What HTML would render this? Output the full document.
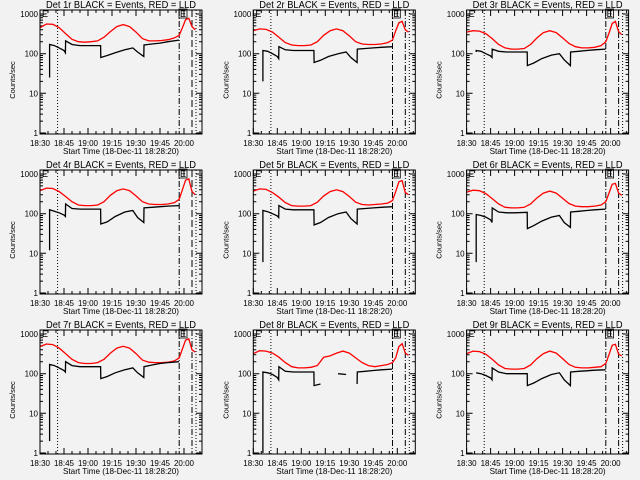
<!DOCTYPE html>
<html><head><meta charset="utf-8"><style>
html,body{margin:0;padding:0;background:#f2f2f2;}
svg{display:block;font-family:"Liberation Sans",sans-serif;}
</style></head><body>
<svg id="c" width="640" height="480" xmlns="http://www.w3.org/2000/svg">
<rect width="640" height="480" fill="#f2f2f2"/>
</svg>
<script>
const detLabels = ["1r","2r","3r","4r","5r","6r","7r","8r","9r"];
const xTickLabels = ["18:30","18:45","19:00","19:15","19:30","19:45","20:00"];
const yTickValues = [1,10,100,1000];
const redTimes = [0,4,8,12,16,20,24,28,32,36,40,44,48,52,56,60,64,68,72,76,80,84,87,89,91,93,95,97];
const blackTimes = [6,6.01,9,12,15,15.9,16,20,25,30,37.9,38,42,47,53,58,61,64.9,65,70,75,80,86.9];
const vLineTimes = [11,87,95,97.5];
const red1 = [450,560,550,450,320,230,200,195,200,210,260,360,480,540,480,350,240,210,210,215,225,250,290,450,720,780,480,400];
const red2 = [380,420,410,350,260,190,165,160,160,165,200,290,380,420,380,280,200,175,170,170,175,190,220,380,600,650,400,350];
const red3 = [350,380,370,320,240,170,140,130,130,135,170,250,340,380,340,250,180,150,140,140,145,160,200,330,580,650,360,300];
const red4 = [380,440,430,360,270,200,165,160,160,165,200,290,380,420,380,280,200,175,170,170,175,190,230,400,700,750,360,300];
const red5 = [370,420,410,340,260,190,160,155,155,160,195,280,360,400,360,270,195,170,165,170,175,185,215,360,640,680,340,300];
const red6 = [350,390,380,320,240,175,145,140,140,145,175,250,330,370,330,245,180,155,150,150,155,165,200,330,550,580,330,290];
const red7 = [480,560,540,440,320,230,190,180,180,190,230,330,440,490,440,320,220,195,190,190,195,210,250,420,700,750,400,350];
const red8 = [320,380,370,330,260,190,150,140,140,145,160,260,280,330,370,330,250,190,160,150,160,170,190,250,480,570,330,290];
const red9 = [320,370,360,310,230,165,135,130,130,135,165,240,320,370,330,240,170,145,140,140,145,150,180,300,520,550,310,280];
const black1 = [25,170,160,140,120,105,210,170,160,160,160,80,90,105,125,140,110,85,165,175,185,200,220];
const black2 = [20,120,115,100,85,75,150,125,120,120,120,60,68,85,100,110,80,60,130,135,140,145,150];
const black3 = [110,120,115,100,88,80,130,115,110,110,110,50,58,75,92,100,70,50,110,115,120,125,130];
const black4 = [12,125,115,105,92,85,175,135,130,130,130,55,62,85,110,120,80,60,140,145,150,155,160];
const black5 = [6,120,112,100,88,80,160,130,125,125,125,52,60,80,100,110,75,55,130,135,140,145,150];
const black6 = [6,95,90,82,70,60,140,110,105,105,108,42,50,65,82,90,60,45,110,115,120,125,130];
const black7 = [2,170,160,140,120,110,200,160,150,150,150,75,85,105,125,140,105,80,150,165,180,190,200];
const black8 = [1,110,105,95,80,70,150,115,110,110,110,50,55,null,100,95,null,55,110,115,120,125,130];
const black9 = [105,105,100,90,78,70,140,110,100,100,100,50,58,75,95,105,70,50,110,115,118,122,125];
const redSeries = [red1,red2,red3,red4,red5,red6,red7,red8,red9];
const blackSeries = [black1,black2,black3,black4,black5,black6,black7,black8,black9];

const NS = "http://www.w3.org/2000/svg";
const svg = document.getElementById("c");
function mk(tag, attrs, parent){
  const e = document.createElementNS(NS, tag);
  for (const k in attrs) e.setAttribute(k, attrs[k]);
  parent.appendChild(e);
  return e;
}
const L = 40, R = 202, T = 10, B = 134;
const X = t => L + t * 1.6;
const Y = v => 133 - Math.log10(v) * 39.67;

function linePath(ts, vs){
  let d = "", pen = false;
  for (let i = 0; i < ts.length; i++){
    const v = vs[i];
    if (v === null || v === undefined){ pen = false; continue; }
    d += (pen ? "L" : "M") + X(ts[i]).toFixed(1) + "," + Math.max(T, Math.min(B, Y(v))).toFixed(1);
    pen = true;
  }
  return d;
}

for (let p = 0; p < 9; p++){
  const col = p % 3, row = Math.floor(p / 3);
  const g = mk("g", {transform: "translate(" + (col * 213.3).toFixed(1) + "," + (row * 160) + ")"}, svg);
  
  

  const title = mk("text", {x: 121, y: 8, "font-size": 10, "text-anchor": "middle", fill: "#000", textLength: 150, lengthAdjust: "spacingAndGlyphs"}, g);
  title.textContent = "Det " + detLabels[p] + " BLACK = Events, RED = LLD";
  
  

  const ytg = mk("g", {}, g);
  
  
  let tk = "";
  for (let d = 0; d < 4; d++){
    for (let m = 1; m < 10; m++){
      const v = Math.pow(10, d) * m;
      const y = Y(v);
      if (y < T) continue;
      const len = m === 1 ? 6 : 3;
      tk += "M" + L + "," + y.toFixed(1) + "h" + len + "M" + R + "," + y.toFixed(1) + "h-" + len;
    }
  }
  for (let i = 0; i <= 6; i++){
    const x = X(i * 15);
    tk += "M" + x.toFixed(1) + "," + B + "v-6M" + x.toFixed(1) + "," + T + "v6";
    for (let m = 5; m < 15; m += 5){
      const xm = X(i * 15 + m);
      if (xm < R) tk += "M" + xm.toFixed(1) + "," + B + "v-3M" + xm.toFixed(1) + "," + T + "v3";
    }
  }
  mk("path", {d: tk, stroke: "#000", "stroke-width": 1, fill: "none"}, ytg);
  yTickValues.forEach(v => {
    const t = mk("text", {x: 38, y: (Y(v) + 3).toFixed(1), "font-size": 8, "text-anchor": "end", fill: "#000"}, ytg);
    t.textContent = String(v);
    
    
  });
  const yl = mk("text", {x: 0, y: 0, "font-size": 7.5, "text-anchor": "middle", fill: "#000", transform: "translate(15,80) rotate(-90)"}, g);
  yl.textContent = "Counts/sec";
  
  

  xTickLabels.forEach((lab, i) => {
    const t = mk("text", {x: X(i * 15).toFixed(1), y: 146, "font-size": 8, "text-anchor": "middle", fill: "#000"}, g);
    t.textContent = lab;
    
    
  });
  const xt = mk("text", {x: 121, y: 154, "font-size": 8.5, "text-anchor": "middle", fill: "#000", textLength: 116, lengthAdjust: "spacingAndGlyphs"}, g);
  xt.textContent = "Start Time (18-Dec-11 18:28:20)";
  
  

  const dashes = ["1,2", "6,2,1,2", p === 0 || p === 3 ? "7,3" : "6,2,1,2", "1,2"];
  vLineTimes.forEach((t, i) => {
    const ln = mk("line", {x1: X(t).toFixed(1), x2: X(t).toFixed(1), y1: T, y2: B, stroke: "#000", "stroke-width": 1, "stroke-dasharray": dashes[i]}, g);
    
    
  });

  const rp = mk("path", {d: linePath(redTimes, redSeries[p]), stroke: "#ff0000", "stroke-width": 1.3, fill: "none"}, g);
  
  
  const bp = mk("path", {d: linePath(blackTimes, blackSeries[p]), stroke: "#000", "stroke-width": 1.3, fill: "none"}, g);
  
  

  const e1 = mk("text", {x: 42, y: 17, "font-size": 9, fill: "#000"}, g);
  e1.textContent = "E";
  
  
  const e2 = mk("text", {x: X(87.5).toFixed(1), y: 17, "font-size": 9, fill: "#000"}, g);
  e2.textContent = "E";
  
  
  mk("rect", {x: (X(87.5) - 1).toFixed(1), y: 9, width: 8, height: 9, fill: "none", stroke: "#000", "stroke-width": 0.8}, g);

  const box = mk("rect", {x: L, y: T, width: R - L, height: B - T, fill: "none", stroke: "#000", "stroke-width": 1}, g);
  
  
}
</script>
</body></html>
